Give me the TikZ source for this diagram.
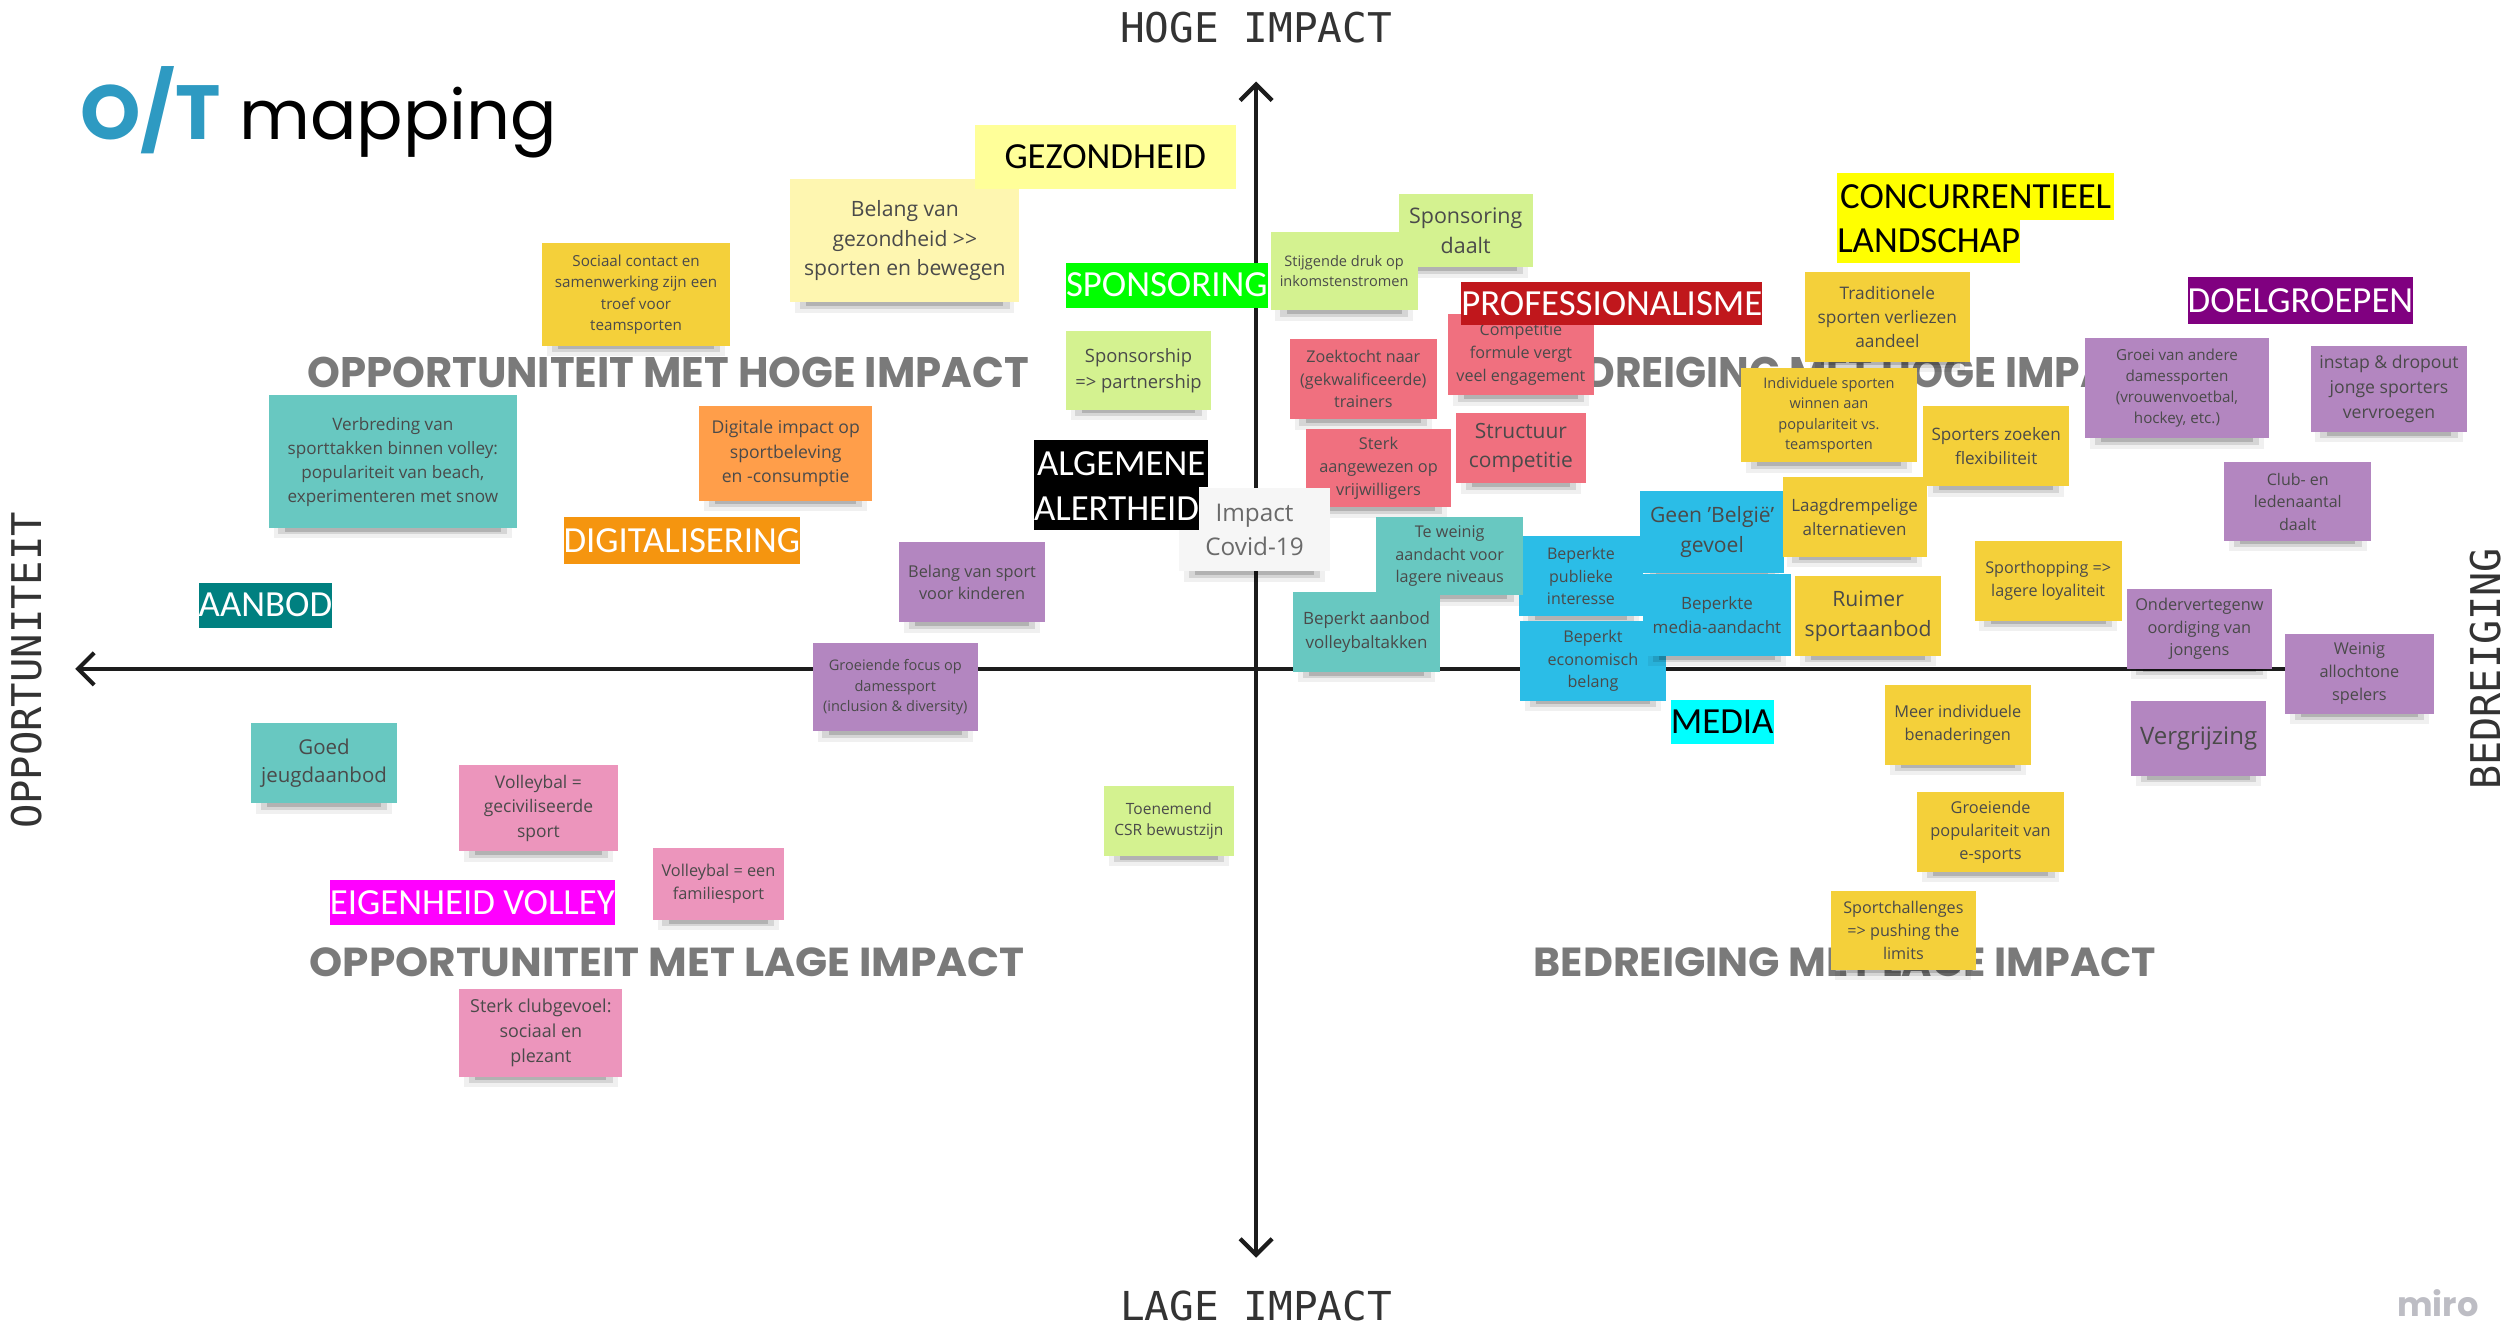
\documentclass[tikz,border=0pt]{standalone}
\usepackage{fontspec}
\setmainfont{Open Sans}
\newfontfamily\labelfont{Carlito}
\newfontfamily\geofont{Poppins}
\newfontfamily\monofont{DejaVu Sans Mono}
\usetikzlibrary{arrows.meta}

% sticky note colours
\definecolor{nY}{HTML}{F4D03A}
\definecolor{nLY}{HTML}{FEF6B0}
\definecolor{nLG}{HTML}{D4F290}
\definecolor{nT}{HTML}{68C8C1}
\definecolor{nO}{HTML}{FF9E4A}
\definecolor{nP}{HTML}{B386C0}
\definecolor{nK}{HTML}{EC95BC}
\definecolor{nR}{HTML}{F0707F}
\definecolor{nB}{HTML}{2BBDE7}
\definecolor{nW}{HTML}{F6F6F6}
\definecolor{notetext}{HTML}{4A4A4A}
\definecolor{covidtext}{HTML}{6A6A6A}
% other colours
\definecolor{quadgrey}{HTML}{7A7A7A}
\definecolor{axisgrey}{HTML}{333333}
\definecolor{axisline}{HTML}{1C1C1C}
\definecolor{titleblue}{HTML}{2E9AC2}
\definecolor{mirogrey}{HTML}{BDBDC4}
% category tag colours
\definecolor{tGez}{HTML}{FFFF99}
\definecolor{tGreen}{HTML}{00FF00}
\definecolor{tRed}{HTML}{C0171C}
\definecolor{tYel}{HTML}{FFFF00}
\definecolor{tPurple}{HTML}{800080}
\definecolor{tOrange}{HTML}{F5950F}
\definecolor{tTeal}{HTML}{008080}
\definecolor{tCyan}{HTML}{00FFFF}
\definecolor{tMagenta}{HTML}{FF00FF}

% #1 name, #2 x1, #3 y1, #4 x2, #5 y2, #6 colour, #7 font size, #8 text
\newcommand\stickynote[8]{%
  \fill[black,opacity=0.06] ({#2+3},{#5-1}) rectangle ({#4-3},{#5+6.5});
  \fill[black,opacity=0.11] ({#2+6},{#5-1}) rectangle ({#4-6},{#5+4});
  \fill[black,opacity=0.16] ({#2+10},{#5-1}) rectangle ({#4-10},{#5+2.2});
  \pgfmathsetmacro\nlskip{#7*1.4}%
  \node[sticky, fill=#6, minimum width={#4-#2}, minimum height={#5-#3},
        font=\fontsize{#7}{\nlskip}\selectfont]
        (#1) at ({(#2+#4)/2},{(#3+#5)/2}) {#8};
}

\begin{document}
\begin{tikzpicture}[x=1pt,y=-1pt,
  sticky/.style={inner sep=0pt, align=center, text=notetext},
  tag/.style={anchor=north west, inner sep=0pt, font=\labelfont\fontsize{23}{23}\selectfont},
  quad/.style={inner sep=0pt, text=quadgrey, font=\geofont\bfseries},
  axl/.style={inner sep=0pt, text=axisgrey, font=\monofont},
  axis/.style={line width=2.6pt, draw=axisline,
    arrows={Straight Barb[length=10pt,width=20pt]-Straight Barb[length=10pt,width=20pt]}}]

\fill[white] (0,0) rectangle (1568,829);
\useasboundingbox (0,0) rectangle (1568,829);

% title
\node[anchor=base west, inner sep=0pt] (title) at (50,87)
  {\geofont{\fontsize{48}{48}\selectfont\bfseries\color{titleblue}O/T}\fontsize{43}{43}\selectfont{} mapping};

% axes
\coordinate (vtop) at (785,51);
\coordinate (vbot) at (785,786);
\coordinate (hleft) at (47,418);
\coordinate (hright) at (1519,418);
\draw[axis] (vbot) -- (vtop);
\draw[axis] (hright) -- (hleft);

% axis labels
\node[axl] (hoge) at (785,17.5) {\resizebox{170pt}{19pt}{HOGE IMPACT}};
\node[axl] (lage) at (785,816) {\resizebox{170pt}{18.5pt}{LAGE IMPACT}};
\node[axl, rotate=90] (opp) at (16.5,419) {\resizebox{198pt}{19pt}{OPPORTUNITEIT}};
\node[axl, rotate=90] (bed) at (1553.5,418) {\resizebox{151pt}{19pt}{BEDREIGING}};

% quadrant titles
\node[quad] (qoh) at (417.5,232.5) {\resizebox{451pt}{19pt}{OPPORTUNITEIT MET HOGE IMPACT}};
\node[quad] (qol) at (417,601.5) {\resizebox{447pt}{18pt}{OPPORTUNITEIT MET LAGE IMPACT}};
\node[quad, anchor=west] (qbh) at (960,233) {\resizebox{393pt}{19pt}{BEDREIGING MET HOGE IMPACT}};
\node[quad] (qbl) at (1153,601.5) {\resizebox{389pt}{18pt}{BEDREIGING MET LAGE IMPACT}};

% opportunities
\stickynote{soc}{339}{152}{456}{216}{nY}{9.5}{Sociaal contact en\\samenwerking zijn een\\troef voor\\teamsporten}
\stickynote{gez}{494}{112}{637}{189}{nLY}{13.2}{Belang van\\gezondheid >\kern0pt>\\sporten en bewegen}
\stickynote{spp}{666}{207}{757}{256}{nLG}{11.5}{Sponsorship\\=> partnership}
\stickynote{verb}{168}{247}{323}{330}{nT}{10.7}{Verbreding van\\sporttakken binnen volley:\\populariteit van beach,\\experimenteren met snow}
\stickynote{dig}{437}{254}{545}{313}{nO}{11.0}{Digitale impact op\\sportbeleving\\en -consumptie}
\stickynote{bsk}{562}{339}{653}{389}{nP}{10.2}{Belang van sport\\voor kinderen}
\stickynote{grf}{508}{402}{611}{457}{nP}{9.1}{Groeiende focus op\\damessport\\(inclusion \& diversity)}
\stickynote{goed}{157}{452}{248}{502}{nT}{12.8}{Goed\\jeugdaanbod}
\stickynote{vgs}{287}{478}{386}{532}{nK}{10.9}{Volleybal =\\geciviliseerde\\sport}
\stickynote{vfam}{408}{530}{490}{575}{nK}{10.2}{Volleybal = een\\familiesport}
\stickynote{club}{287}{618}{389}{673}{nK}{11.2}{Sterk clubgevoel:\\sociaal en\\plezant}
\stickynote{toen}{690}{491}{771}{535}{nLG}{9.7}{Toenemend\\CSR bewustzijn}

% threats
\stickynote{spd}{874}{121}{958}{167}{nLG}{13.4}{Sponsoring\\daalt}
\stickynote{stij}{794}{145}{886}{194}{nLG}{9.1}{Stijgende druk op\\inkomstenstromen}
\stickynote{zoek}{806}{212}{898}{262}{nR}{10.1}{Zoektocht naar\\(gekwalificeerde)\\trainers}
\stickynote{comp}{905}{196}{996}{247}{nR}{10.1}{Competitie\\formule vergt\\veel engagement}
\stickynote{sterk}{816}{268}{907}{317}{nR}{10.2}{Sterk\\aangewezen op\\vrijwilligers}
\stickynote{struc}{910}{258}{991}{302}{nR}{13.1}{Structuur\\competitie}
\stickynote{covid}{737}{305}{831}{357}{nW}{15.2}{{\color{covidtext}Impact}\\{\color{covidtext}Covid-19}}
\stickynote{bpi}{949}{335}{1027}{385}{nB}{10.0}{Beperkte\\publieke\\interesse}
\stickynote{tew}{860}{323}{952}{372}{nT}{10.1}{Te weinig\\aandacht voor\\lagere niveaus}
\stickynote{bav}{808}{370}{900}{420}{nT}{10.6}{Beperkt aanbod\\volleybaltakken}
\stickynote{beb}{950}{388}{1041}{438}{nB}{10.1}{Beperkt\\economisch\\belang}
\stickynote{bel}{1025}{307}{1115}{358}{nB}{13.2}{Geen {\char"27}België{\char"27}\\gevoel}
\stickynote{bma}{1027}{359}{1119}{410}{nB}{10.6}{Beperkte\\media-aandacht}
\stickynote{trad}{1128}{170}{1231}{226}{nY}{10.8}{Traditionele\\sporten verliezen\\aandeel}
\stickynote{indi}{1088}{230}{1198}{289}{nY}{9.1}{Individuele sporten\\winnen aan\\populariteit vs.\\teamsporten}
\stickynote{spz}{1202}{254}{1293}{304}{nY}{10.7}{Sporters zoeken\\flexibiliteit}
\stickynote{laag}{1114}{298}{1204}{348}{nY}{10.6}{Laagdrempelige\\alternatieven}
\stickynote{ruim}{1122}{360}{1213}{410}{nY}{13.2}{Ruimer\\sportaanbod}
\stickynote{sph}{1234}{338}{1326}{388}{nY}{10.1}{Sporthopping =>\\lagere loyaliteit}
\stickynote{meer}{1178}{428}{1269}{478}{nY}{10.2}{Meer individuele\\benaderingen}
\stickynote{esp}{1198}{495}{1290}{545}{nY}{10.2}{Groeiende\\populariteit van\\e-sports}
\stickynote{chal}{1144}{557}{1235}{606}{nY}{10.1}{Sportchallenges\\=> pushing the\\limits}
\stickynote{grav}{1303}{211}{1418}{274}{nP}{9.5}{Groei van andere\\damessporten\\(vrouwenvoetbal,\\hockey, etc.)}
\stickynote{inst}{1444}{216}{1542}{270}{nP}{11.0}{instap \& dropout\\jonge sporters\\vervroegen}
\stickynote{cled}{1390}{289}{1482}{338}{nP}{10.0}{Club- en\\ledenaantal\\daalt}
\stickynote{ond}{1329}{368}{1420}{418}{nP}{10.2}{Ondervertegenw\\oordiging van\\jongens}
\stickynote{wein}{1428}{396}{1521}{446}{nP}{10.2}{Weinig\\allochtone\\spelers}
\stickynote{verg}{1332}{438}{1416}{485}{nP}{15.0}{Vergrijzing}

% category tags
\node[tag, fill=tGez, minimum width=163, minimum height=40] (tgez) at (609,78) {GEZONDHEID};
\node[tag, fill=tGreen, text=white, minimum width=124, minimum height=28] (tspons) at (666,164) {SPONSORING};
\node[tag, fill=tRed, text=white, minimum width=187, minimum height=27] (tprof) at (913,176) {PROFESSIONALISME};
\node[tag, fill=tYel, minimum width=173, minimum height=29] (tconc) at (1148,108) {CONCURRENTIEEL};
\node[tag, fill=tYel, minimum width=113, minimum height=27] (tland) at (1148,137) {LANDSCHAP};
\node[tag, fill=tPurple, text=white, minimum width=140, minimum height=29] (tdoel) at (1367,173) {DOELGROEPEN};
\node[tag, fill=black, text=white, minimum width=109, minimum height=29] (talg) at (646,275) {ALGEMENE};
\node[tag, fill=black, text=white, minimum width=102, minimum height=27] (talert) at (646,304) {ALERTHEID};
\node[tag, fill=tOrange, text=white, minimum width=146, minimum height=29] (tdig) at (352,323) {DIGITALISERING};
\node[tag, fill=tTeal, text=white, minimum width=83, minimum height=28] (taanb) at (124,364) {AANBOD};
\node[tag, fill=tCyan, minimum width=64, minimum height=28] (tmedia) at (1044,437) {MEDIA};
\node[tag, fill=tMagenta, text=white, minimum width=177, minimum height=28] (teigen) at (206,550) {EIGENHEID VOLLEY};

% board watermark
\node[anchor=base west, inner sep=0pt, text=mirogrey] (miro) at (1498,822.5)
  {\geofont\bfseries\fontsize{21}{21}\selectfont miro};
\end{tikzpicture}
\end{document}
